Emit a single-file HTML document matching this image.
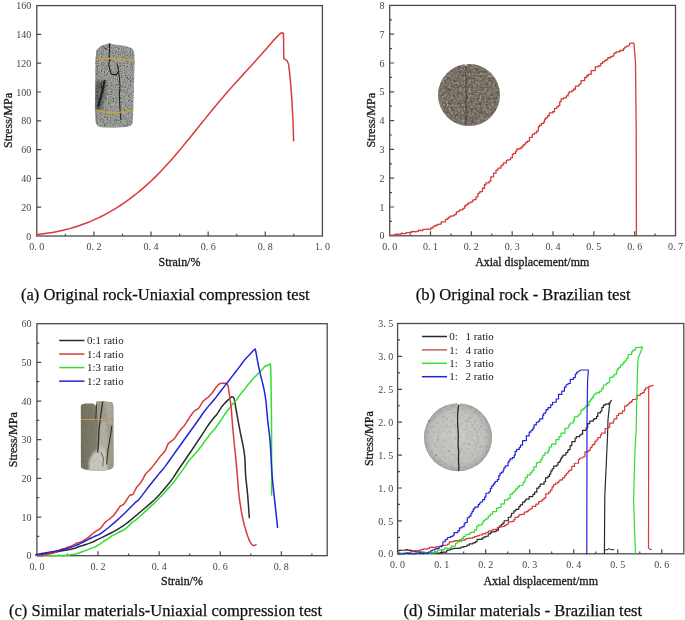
<!DOCTYPE html>
<html><head><meta charset="utf-8"><title>figure</title>
<style>html,body{margin:0;padding:0;background:#fff;width:685px;height:620px;overflow:hidden}svg{display:block}</style>
</head><body>
<svg width="685" height="620" viewBox="0 0 685 620" font-family="Liberation Serif, serif">
<defs>
<filter id="spk" x="0" y="0" width="100%" height="100%"><feTurbulence type="fractalNoise" baseFrequency="0.7" numOctaves="2" seed="4"/><feColorMatrix type="matrix" values="0 0 0 0 0  0 0 0 0 0  0 0 0 0 0  -2.0 0 0 0 1.05"/><feGaussianBlur stdDeviation="0.45"/></filter>
<filter id="spkw" x="0" y="0" width="100%" height="100%"><feTurbulence type="fractalNoise" baseFrequency="0.7" numOctaves="2" seed="11"/><feColorMatrix type="matrix" values="0 0 0 0 1  0 0 0 0 1  0 0 0 0 1  2.0 0 0 0 -0.95"/><feGaussianBlur stdDeviation="0.45"/></filter>
<filter id="mot" x="0" y="0" width="100%" height="100%"><feTurbulence type="fractalNoise" baseFrequency="0.35" numOctaves="3" seed="7"/><feColorMatrix type="matrix" values="0 0 0 0 0  0 0 0 0 0  0 0 0 0 0  -2.2 0 0 0 1.2"/><feGaussianBlur stdDeviation="0.5"/></filter>
<radialGradient id="gD" cx="50%" cy="50%" r="50%"><stop offset="0" stop-color="#cdcbc9"/><stop offset="0.8" stop-color="#c3c1be"/><stop offset="1" stop-color="#a9a7a3"/></radialGradient>
<filter id="glob" x="0" y="0" width="685" height="620" filterUnits="userSpaceOnUse"><feGaussianBlur stdDeviation="0.3"/></filter>
<filter id="motw" x="0" y="0" width="100%" height="100%"><feTurbulence type="fractalNoise" baseFrequency="0.45" numOctaves="3" seed="21"/><feColorMatrix type="matrix" values="0 0 0 0 0.69  0 0 0 0 0.65  0 0 0 0 0.58  2.4 0 0 0 -1.1"/><feGaussianBlur stdDeviation="0.6"/></filter>
<linearGradient id="gC" x1="0" y1="0" x2="1" y2="0"><stop offset="0" stop-color="#73705f"/><stop offset="0.45" stop-color="#807c6b"/><stop offset="1" stop-color="#8f8b7b"/></linearGradient>
<filter id="soft"><feGaussianBlur stdDeviation="0.45"/></filter>
<filter id="soft2"><feGaussianBlur stdDeviation="0.8"/></filter>
<clipPath id="cA"><path d="M96.3 50.4 L99 47.5 L102.4 45.2 L106 44.2 L109 43.3 L114.3 44.5 L125.4 45.9 L132 48.2 L134.2 51.5 L134.6 60 L133.3 110 L132.8 122 Q132 126.5 126 127 L114 127.8 L101 127.3 Q96.3 126.5 95.7 122 L95 110 L95.4 62 Z"/></clipPath>
<clipPath id="cB"><circle cx="469" cy="95" r="31"/></clipPath>
<clipPath id="cC"><path d="M80.8 406 Q81.2 403.4 86 403.4 L93.5 403.6 L95.5 406 L96.5 401.5 L104 401.4 L111.5 402.2 Q113.2 402.8 113.3 406 L113.5 466 Q113 470.5 100 470.6 Q82 470.8 80.9 467 Z"/></clipPath>
<clipPath id="cD"><circle cx="458" cy="437.2" r="34"/></clipPath>
</defs>
<g filter="url(#glob)"><path d="M65.36 236v-2.3M93.92 236v-4.5M122.48 236v-2.3M151.04 236v-4.5M179.60 236v-2.3M208.16 236v-4.5M236.72 236v-2.3M265.28 236v-4.5M293.84 236v-2.3M36.8 207.20h4.4M36.8 178.40h4.4M36.8 149.60h4.4M36.8 120.80h4.4M36.8 92.00h4.4M36.8 63.20h4.4M36.8 34.40h4.4" stroke="#4a4a4a" stroke-width="1.2" fill="none"/><rect x="36.8" y="5.6" width="285.60" height="230.40" fill="none" stroke="#4a4a4a" stroke-width="1.3"/><g font-size="10" fill="#444"><text x="36.80" y="249.6" text-anchor="middle">0. 0</text><text x="93.92" y="249.6" text-anchor="middle">0. 2</text><text x="151.04" y="249.6" text-anchor="middle">0. 4</text><text x="208.16" y="249.6" text-anchor="middle">0. 6</text><text x="265.28" y="249.6" text-anchor="middle">0. 8</text><text x="322.40" y="249.6" text-anchor="middle">1. 0</text><text x="31.2" y="239.60" text-anchor="end">0</text><text x="31.2" y="210.80" text-anchor="end">20</text><text x="31.2" y="182.00" text-anchor="end">40</text><text x="31.2" y="153.20" text-anchor="end">60</text><text x="31.2" y="124.40" text-anchor="end">80</text><text x="31.2" y="95.60" text-anchor="end">100</text><text x="31.2" y="66.80" text-anchor="end">120</text><text x="31.2" y="38.00" text-anchor="end">140</text><text x="31.2" y="9.20" text-anchor="end">160</text></g><text x="8" y="120.5" font-size="12" text-anchor="middle" transform="rotate(-90 8 120.5)" dominant-baseline="central" fill="#1a1a1a" stroke="#1a1a1a" stroke-width="0.3" textLength="55" lengthAdjust="spacingAndGlyphs">Stress/MPa</text><text x="179.5" y="266" font-size="12" text-anchor="middle" fill="#1a1a1a" stroke="#1a1a1a" stroke-width="0.3" textLength="41.8" lengthAdjust="spacingAndGlyphs">Strain/%</text><text x="21" y="300.2" font-size="16.5" fill="#111" stroke="#111" stroke-width="0.25" textLength="288.7" lengthAdjust="spacingAndGlyphs">(a) Original rock-Uniaxial compression test</text><g clip-path="url(#cA)"><rect x="94" y="42" width="42" height="88" fill="#989b94"/><rect x="94" y="42" width="42" height="88" fill="#000" filter="url(#spk)" opacity="0.7"/><rect x="94" y="42" width="42" height="88" fill="#fff" filter="url(#spkw)" opacity="0.45"/><path d="M95.5 82 Q101 78 107 82 L105 96 L102 110 Q97 113 95 110 Z" fill="#1a1a1a" opacity="0.4" filter="url(#soft2)"/><g filter="url(#soft)" fill="none" stroke="#1e1e1e" stroke-linecap="round" stroke-linejoin="round"><path d="M109.4 43.5 L109.8 49 L109 54.8 L109.8 59.3 L108.7 64.5 L109.8 69.7 L111.3 74.1 L116.5 74.9 L118.7 71.2" stroke-width="1.1"/><path d="M117.2 64.5 L118.7 71.9 L119.4 77.1 L120 86 L119.4 95 L119.8 106 L120.2 112.2 L120.9 119.6" stroke-width="1.0"/><path d="M102.4 45.9 L104.5 47.8 L106.8 49.6" stroke-width="0.8"/><path d="M104.5 81 L102.4 91.4 L100.2 98.8 L98.4 106.3" stroke-width="2"/><path d="M101 84 L102 90" stroke-width="0.9"/></g><path d="M94 42 L98 42 L98 130 L94 130 Z" fill="#000" opacity="0.08"/></g><g filter="url(#soft)" fill="none" stroke="#c2a046" stroke-width="1.7"><path d="M95.3 60 Q110 56 134.7 61.9"/><path d="M94.6 110 Q113 115.5 132.8 110"/></g><path d="M36.90 235.60 L37.00 234.46 L39.79 234.18 L42.57 233.87 L45.36 233.51 L48.15 233.11 L50.94 232.68 L53.72 232.19 L56.51 231.67 L59.30 231.10 L62.09 230.48 L64.87 229.82 L67.66 229.11 L70.45 228.35 L73.24 227.54 L76.02 226.69 L78.81 225.77 L81.60 224.81 L84.39 223.79 L87.17 222.72 L89.96 221.60 L92.75 220.41 L95.53 219.17 L98.32 217.87 L101.11 216.51 L103.90 215.09 L106.68 213.61 L109.47 212.07 L112.26 210.46 L115.05 208.79 L117.83 207.06 L120.62 205.25 L123.41 203.38 L126.20 201.45 L128.98 199.44 L131.77 197.36 L134.56 195.21 L137.34 192.99 L140.13 190.70 L142.92 188.33 L145.71 185.89 L148.49 183.37 L151.28 180.77 L154.07 178.10 L156.86 175.35 L159.64 172.52 L162.43 169.60 L165.22 166.61 L168.01 163.55 L170.79 160.42 L173.58 157.23 L176.37 153.99 L179.16 150.70 L181.94 147.37 L184.73 144.00 L187.52 140.59 L190.30 137.17 L193.09 133.72 L195.88 130.26 L198.67 126.80 L201.45 123.33 L204.24 119.86 L207.03 116.40 L209.82 112.96 L212.60 109.54 L215.39 106.15 L218.18 102.79 L220.97 99.47 L223.75 96.20 L226.54 92.97 L229.33 89.79 L232.11 86.65 L234.90 83.55 L237.69 80.48 L240.48 77.42 L243.26 74.38 L246.05 71.35 L248.84 68.31 L251.63 65.26 L254.41 62.20 L257.20 59.12 L259.99 56.00 L262.78 52.85 L265.56 49.65 L268.35 46.43 L271.14 43.23 L273.93 40.11 L276.71 37.13 L279.50 34.33 L281.30 32.90 L282.60 32.80 L283.40 33.60 L283.60 40.00 L283.80 58.70 L285.50 59.60 L287.10 60.80 L288.50 64.00 L289.50 71.60 L291.00 88.00 L291.90 100.60 L293.00 120.00 L293.60 140.80" fill="none" stroke="#d83a3a" stroke-width="1.5" stroke-linejoin="round" stroke-linecap="round"/><path d="M410.11 235.8v-2.3M430.53 235.8v-4.5M450.94 235.8v-2.3M471.36 235.8v-4.5M491.77 235.8v-2.3M512.19 235.8v-4.5M532.60 235.8v-2.3M553.01 235.8v-4.5M573.43 235.8v-2.3M593.84 235.8v-4.5M614.26 235.8v-2.3M634.67 235.8v-4.5M655.09 235.8v-2.3M389.7 221.40h2.4M389.7 207.00h4.4M389.7 192.60h2.4M389.7 178.20h4.4M389.7 163.80h2.4M389.7 149.40h4.4M389.7 135.00h2.4M389.7 120.60h4.4M389.7 106.20h2.4M389.7 91.80h4.4M389.7 77.40h2.4M389.7 63.00h4.4M389.7 48.60h2.4M389.7 34.20h4.4M389.7 19.80h2.4" stroke="#4a4a4a" stroke-width="1.2" fill="none"/><rect x="389.7" y="5.4" width="285.80" height="230.40" fill="none" stroke="#4a4a4a" stroke-width="1.3"/><g font-size="10" fill="#444"><text x="389.70" y="249.5" text-anchor="middle">0. 0</text><text x="430.53" y="249.5" text-anchor="middle">0. 1</text><text x="471.36" y="249.5" text-anchor="middle">0. 2</text><text x="512.19" y="249.5" text-anchor="middle">0. 3</text><text x="553.01" y="249.5" text-anchor="middle">0. 4</text><text x="593.84" y="249.5" text-anchor="middle">0. 5</text><text x="634.67" y="249.5" text-anchor="middle">0. 6</text><text x="675.50" y="249.5" text-anchor="middle">0. 7</text><text x="384.6" y="239.40" text-anchor="end">0</text><text x="384.6" y="210.60" text-anchor="end">1</text><text x="384.6" y="181.80" text-anchor="end">2</text><text x="384.6" y="153.00" text-anchor="end">3</text><text x="384.6" y="124.20" text-anchor="end">4</text><text x="384.6" y="95.40" text-anchor="end">5</text><text x="384.6" y="66.60" text-anchor="end">6</text><text x="384.6" y="37.80" text-anchor="end">7</text><text x="384.6" y="9.00" text-anchor="end">8</text></g><text x="371" y="120.3" font-size="12" text-anchor="middle" transform="rotate(-90 371 120.3)" dominant-baseline="central" fill="#1a1a1a" stroke="#1a1a1a" stroke-width="0.3" textLength="54.6" lengthAdjust="spacingAndGlyphs">Stress/MPa</text><text x="532.2" y="266" font-size="12" text-anchor="middle" fill="#1a1a1a" stroke="#1a1a1a" stroke-width="0.3" textLength="114" lengthAdjust="spacingAndGlyphs">Axial displacement/mm</text><text x="415.8" y="300.2" font-size="16.5" fill="#111" stroke="#111" stroke-width="0.25" textLength="214.8" lengthAdjust="spacingAndGlyphs">(b) Original rock - Brazilian test</text><g clip-path="url(#cB)"><rect x="436" y="62" width="66" height="66" fill="#786f64"/><rect x="436" y="62" width="66" height="66" fill="#000" filter="url(#mot)" opacity="0.4"/><rect x="436" y="62" width="66" height="66" filter="url(#motw)" opacity="0.6"/><rect x="436" y="62" width="66" height="66" fill="#000" filter="url(#spk)" opacity="0.15"/><path d="M465.6 63 L466.2 68 L465.5 74 L466.3 80 L465.7 88 L466.4 95 L465.8 103 L466.3 110 L465.9 118 L466.2 127" stroke="#3a352e" stroke-width="0.8" fill="none" filter="url(#soft)"/></g><path d="M465 63.6 L466.4 66" stroke="#fff" stroke-width="1.2"/><path d="M390.20 235.30 L391.44 235.30 L391.44 235.16 L393.17 235.16 L393.17 234.99 L394.16 234.99 L394.16 235.06 L395.40 235.06 L395.40 235.04 L395.40 234.27 L397.38 234.27 L397.38 234.27 L398.62 234.27 L398.62 234.15 L400.35 234.15 L400.35 234.02 L401.34 234.02 L401.34 233.12 L402.58 233.12 L402.58 233.59 L404.07 233.59 L406.04 233.59 L406.04 233.50 L406.04 232.72 L408.02 232.72 L410.24 232.72 L410.24 232.01 L411.47 232.01 L411.47 232.67 L411.47 231.71 L413.20 231.71 L413.20 231.50 L414.68 231.50 L414.68 231.75 L416.40 231.75 L416.40 231.29 L418.61 231.29 L418.61 230.23 L420.58 230.23 L420.58 230.54 L422.79 230.54 L422.79 229.47 L424.75 229.47 L426.47 229.47 L426.47 229.20 L428.65 229.20 L428.65 229.38 L430.81 229.38 L430.81 228.15 L430.81 228.00 L432.22 228.00 L433.15 228.00 L433.15 227.48 L433.15 226.41 L434.99 226.41 L434.99 225.52 L437.25 225.52 L437.25 224.42 L438.59 224.42 L439.47 224.42 L439.47 224.07 L441.21 224.07 L441.21 223.03 L441.21 221.87 L443.33 221.87 L445.42 221.87 L445.42 220.57 L445.42 219.69 L447.07 219.69 L447.07 218.51 L448.70 218.51 L448.70 217.16 L450.33 217.16 L450.33 216.19 L451.57 216.19 L453.23 216.19 L453.23 215.33 L454.69 215.33 L454.69 214.40 L456.36 214.40 L456.36 213.34 L456.36 211.91 L458.22 211.91 L458.22 211.15 L459.65 211.15 L459.65 209.78 L460.67 209.78 L462.91 209.78 L462.91 208.37 L464.69 208.37 L464.69 207.07 L464.69 206.01 L466.05 206.01 L466.05 204.88 L467.38 204.88 L467.38 204.27 L468.34 204.27 L468.34 202.81 L469.68 202.81 L470.83 202.81 L470.83 201.80 L472.70 201.80 L472.70 200.06 L473.97 200.06 L473.97 199.59 L476.07 199.59 L476.07 196.78 L477.93 196.78 L477.93 195.47 L477.93 193.75 L478.73 193.75 L478.73 193.09 L479.85 193.09 L479.85 191.58 L480.63 191.58 L482.47 191.58 L482.47 189.74 L482.47 188.23 L483.23 188.23 L484.43 188.23 L484.43 186.69 L484.43 184.75 L485.94 184.75 L485.94 182.95 L486.99 182.95 L489.10 182.95 L489.10 181.14 L490.78 181.14 L490.78 178.90 L490.78 176.85 L492.32 176.85 L493.58 176.85 L493.58 174.75 L493.58 173.19 L494.71 173.19 L496.03 173.19 L496.03 172.43 L496.03 170.10 L498.05 170.10 L498.05 168.14 L500.13 168.14 L500.83 168.14 L500.83 167.27 L500.83 165.95 L502.07 165.95 L502.07 164.83 L503.50 164.83 L503.50 162.92 L504.75 162.92 L506.38 162.92 L506.38 161.89 L506.38 160.61 L507.46 160.61 L507.46 159.83 L508.54 159.83 L510.53 159.83 L510.53 157.95 L512.31 157.95 L512.31 156.24 L512.31 154.59 L513.38 154.59 L513.38 153.39 L514.79 153.39 L515.68 153.39 L515.68 152.09 L515.68 151.05 L516.75 151.05 L516.75 148.98 L518.90 148.98 L520.15 148.98 L520.15 147.98 L521.94 147.98 L521.94 146.51 L523.19 146.51 L523.19 145.02 L524.78 145.02 L524.78 143.82 L525.66 143.82 L525.66 142.39 L527.41 142.39 L527.41 141.21 L529.47 141.21 L529.47 138.87 L529.47 137.28 L530.83 137.28 L532.33 137.28 L532.33 135.80 L532.33 134.32 L533.48 134.32 L534.46 134.32 L534.46 133.08 L536.56 133.08 L536.56 131.11 L538.32 131.11 L538.32 128.85 L538.32 126.63 L539.59 126.63 L539.59 125.27 L541.33 125.27 L541.33 123.38 L542.76 123.38 L543.55 123.38 L543.55 122.26 L544.50 122.26 L544.50 121.29 L544.50 119.65 L545.30 119.65 L545.30 118.23 L546.41 118.23 L546.41 117.71 L547.54 117.71 L547.54 115.73 L549.33 115.73 L549.33 112.94 L550.98 112.94 L552.65 112.94 L552.65 111.75 L554.51 111.75 L554.51 109.95 L554.51 108.47 L555.52 108.47 L556.71 108.47 L556.71 106.80 L558.40 106.80 L558.40 105.54 L559.74 105.54 L559.74 103.69 L559.74 101.65 L561.18 101.65 L561.18 98.96 L563.40 98.96 L563.40 97.91 L564.54 97.91 L566.28 97.91 L566.28 95.94 L568.11 95.94 L568.11 94.61 L568.11 93.63 L569.03 93.63 L569.03 91.83 L570.72 91.83 L571.85 91.83 L571.85 90.67 L573.54 90.67 L573.54 89.24 L575.43 89.24 L575.43 88.23 L575.43 86.04 L577.31 86.04 L578.99 86.04 L578.99 84.40 L579.92 84.40 L579.92 83.78 L581.03 83.78 L581.03 82.65 L581.03 80.54 L583.02 80.54 L584.62 80.54 L584.62 79.42 L584.62 77.49 L586.72 77.49 L586.72 75.76 L588.27 75.76 L588.27 74.33 L589.65 74.33 L591.20 74.33 L591.20 72.19 L591.20 70.67 L593.12 70.67 L595.25 70.67 L595.25 68.12 L595.25 66.86 L596.52 66.86 L598.58 66.86 L598.58 65.75 L600.71 65.75 L600.71 63.43 L602.69 63.43 L602.69 61.68 L604.72 61.68 L604.72 60.42 L606.36 60.42 L606.36 59.66 L607.81 59.66 L607.81 58.44 L607.81 57.76 L609.06 57.76 L610.53 57.76 L610.53 56.77 L611.79 56.77 L611.79 56.08 L613.90 56.08 L613.90 54.99 L613.90 53.13 L616.03 53.13 L616.03 51.91 L617.96 51.91 L619.70 51.91 L619.70 51.43 L619.70 50.50 L621.67 50.50 L623.43 50.50 L623.43 48.70 L623.43 48.59 L624.75 48.59 L624.75 47.12 L626.52 47.12 L626.52 46.17 L628.28 46.17 L629.00 46.10 L629.80 43.20 L633.90 43.20 L635.50 62.30 L636.20 130.00 L636.40 235.80" fill="none" stroke="#d83a3a" stroke-width="1.3" stroke-linejoin="round" stroke-linecap="round"/><path d="M67.46 555.7v-2.3M98.02 555.7v-4.5M128.57 555.7v-2.3M159.13 555.7v-4.5M189.69 555.7v-2.3M220.25 555.7v-4.5M250.81 555.7v-2.3M281.36 555.7v-4.5M311.92 555.7v-2.3M36.9 536.37h2.4M36.9 517.03h4.4M36.9 497.70h2.4M36.9 478.37h4.4M36.9 459.03h2.4M36.9 439.70h4.4M36.9 420.37h2.4M36.9 401.03h4.4M36.9 381.70h2.4M36.9 362.37h4.4M36.9 343.03h2.4" stroke="#4a4a4a" stroke-width="1.2" fill="none"/><rect x="36.9" y="323.7" width="290.30" height="232.00" fill="none" stroke="#4a4a4a" stroke-width="1.3"/><g font-size="10" fill="#444"><text x="36.90" y="569.5" text-anchor="middle">0. 0</text><text x="98.02" y="569.5" text-anchor="middle">0. 2</text><text x="159.13" y="569.5" text-anchor="middle">0. 4</text><text x="220.25" y="569.5" text-anchor="middle">0. 6</text><text x="281.36" y="569.5" text-anchor="middle">0. 8</text><text x="31.4" y="559.30" text-anchor="end">0</text><text x="31.4" y="520.63" text-anchor="end">10</text><text x="31.4" y="481.97" text-anchor="end">20</text><text x="31.4" y="443.30" text-anchor="end">30</text><text x="31.4" y="404.63" text-anchor="end">40</text><text x="31.4" y="365.97" text-anchor="end">50</text><text x="31.4" y="327.30" text-anchor="end">60</text></g><text x="12.6" y="439.7" font-size="12" text-anchor="middle" transform="rotate(-90 12.6 439.7)" dominant-baseline="central" fill="#1a1a1a" stroke="#1a1a1a" stroke-width="0.3" textLength="55" lengthAdjust="spacingAndGlyphs">Stress/MPa</text><text x="182" y="585" font-size="12" text-anchor="middle" fill="#1a1a1a" stroke="#1a1a1a" stroke-width="0.3" textLength="41.8" lengthAdjust="spacingAndGlyphs">Strain/%</text><text x="9" y="616.2" font-size="16.5" fill="#111" stroke="#111" stroke-width="0.25" textLength="313" lengthAdjust="spacingAndGlyphs">(c) Similar materials-Uniaxial compression test</text><g clip-path="url(#cC)"><rect x="80" y="400" width="35" height="73" fill="url(#gC)"/><path d="M96.5 400 L115 400 L115 473 L100 473 L97 455 L98.5 430 Z" fill="#a09c8c"/><path d="M99 424 L106 420 L108 440 L106 456 L100 458 L97.5 445 Z" fill="#b2afa5" filter="url(#soft2)"/><path d="M89 462 Q92 452 97 450 L102 446 L106 452 L108 473 L89 473 Z" fill="#c9c6be" filter="url(#soft2)"/><path d="M104 402 L112.5 402 L112 425 L109 424 L106 410 Z" fill="#aeaa9f" filter="url(#soft2)"/><rect x="80" y="400" width="35" height="73" fill="#000" filter="url(#mot)" opacity="0.08"/><g filter="url(#soft)" fill="none" stroke="#302e29" stroke-linecap="round"><path d="M102.7 401.5 L101.5 410 L100.2 420 L99 430 L98.6 440 L97.8 452" stroke-width="1.3"/><path d="M96.5 405 L96.2 412 L95.6 420" stroke-width="0.9"/><path d="M111.8 426 L110.5 436 L108.6 446 L107.3 456 L106.8 464" stroke-width="1.1"/><path d="M101 452 L103.5 458 L102.8 466" stroke-width="0.6"/></g></g><path d="M80.9 419.8 Q97 418.8 113.6 419.8" stroke="#bb9c5a" stroke-width="2.4" fill="none" filter="url(#soft)"/><path d="M59.2 340.50H84.4" stroke="#2a2a2a" stroke-width="1.5"/><text x="87" y="344.30" font-size="11" fill="#222" textLength="36.6" lengthAdjust="spacingAndGlyphs">0:1 ratio</text><path d="M59.2 354.05H84.4" stroke="#d83a3a" stroke-width="1.5"/><text x="87" y="357.85" font-size="11" fill="#222" textLength="36.6" lengthAdjust="spacingAndGlyphs">1:4 ratio</text><path d="M59.2 367.60H84.4" stroke="#33dd33" stroke-width="1.5"/><text x="87" y="371.40" font-size="11" fill="#222" textLength="36.6" lengthAdjust="spacingAndGlyphs">1:3 ratio</text><path d="M59.2 381.15H84.4" stroke="#2222dd" stroke-width="1.5"/><text x="87" y="384.95" font-size="11" fill="#222" textLength="36.6" lengthAdjust="spacingAndGlyphs">1:2 ratio</text><path d="M36.00 555.10 L38.29 554.61 L41.55 554.45 L44.80 553.66 L47.70 553.32 L50.60 553.06 L53.50 552.54 L56.43 551.94 L59.37 551.34 L62.30 550.68 L65.20 550.22 L68.10 549.82 L71.00 549.23 L73.93 548.57 L76.87 547.46 L79.80 546.32 L82.72 545.53 L85.63 544.57 L88.50 543.61 L91.02 542.66 L93.49 541.73 L96.80 539.82 L101.68 537.64 L107.39 534.71 L112.60 532.21 L116.70 529.77 L120.31 527.62 L123.90 525.26 L127.87 522.29 L131.84 519.12 L135.10 516.24 L136.84 515.05 L137.89 513.93 L140.00 512.21 L144.10 508.74 L149.26 504.40 L154.50 499.81 L159.75 494.28 L165.08 488.05 L169.70 482.48 L173.10 477.87 L175.78 473.74 L178.50 469.53 L181.43 465.30 L184.39 461.05 L187.60 456.26 L191.21 451.01 L195.06 445.16 L198.90 439.51 L202.83 433.55 L206.74 427.43 L210.10 422.50 L212.56 419.52 L214.46 417.07 L216.30 415.12 L218.21 412.30 L220.05 409.38 L221.90 406.45 L223.86 404.18 L225.83 402.11 L227.60 400.35 L229.09 398.98 L230.39 397.67 L231.50 396.82 L232.43 396.95 L233.18 397.20 L233.80 398.04 L234.23 399.16 L234.53 400.33 L234.90 402.71 L235.34 405.23 L235.85 408.33 L236.60 412.71 L237.76 419.02 L239.17 426.44 L240.50 433.51 L241.69 439.02 L242.80 444.32 L243.70 449.06 L244.30 453.03 L244.69 456.70 L245.00 460.78 L245.20 465.16 L245.32 469.58 L245.60 475.12 L246.17 481.00 L246.90 487.29 L247.60 494.34 L248.25 502.60 L248.87 511.28 L249.30 517.60" fill="none" stroke="#2a2a2a" stroke-width="1.5" stroke-linejoin="round" stroke-linecap="round"/><path d="M37.00 555.20 L39.19 555.29 L42.39 555.68 L46.00 555.26 L50.17 555.76 L54.76 555.66 L58.80 555.21 L61.90 555.69 L64.44 555.33 L66.60 555.44 L68.16 555.21 L69.33 555.16 L71.00 554.57 L73.61 554.38 L76.71 553.71 L79.80 552.79 L82.75 551.46 L85.69 550.64 L88.50 549.39 L90.96 548.36 L93.29 547.64 L96.00 546.46 L99.57 544.32 L103.53 541.51 L106.90 539.40 L108.98 538.07 L110.48 536.83 L112.60 535.44 L116.04 533.93 L120.10 531.77 L123.90 529.77 L127.14 527.45 L130.13 524.37 L132.90 521.64 L135.01 520.59 L136.92 519.07 L140.00 516.19 L145.33 511.33 L151.83 505.37 L157.70 499.78 L162.07 495.17 L165.81 491.13 L169.70 486.87 L174.31 481.50 L179.08 474.60 L183.10 469.37 L185.74 465.37 L187.64 462.50 L189.80 459.54 L192.66 456.48 L195.79 453.00 L198.90 449.32 L201.98 445.25 L205.04 440.89 L207.90 437.19 L210.29 433.99 L212.47 431.55 L215.00 428.76 L218.29 424.03 L221.93 418.84 L225.30 413.44 L228.07 410.04 L230.57 406.89 L233.20 403.32 L236.17 400.34 L239.26 395.88 L242.20 392.08 L244.94 388.84 L247.52 385.21 L249.80 382.70 L251.64 380.38 L253.17 378.60 L254.70 376.94 L256.34 375.66 L257.97 373.48 L259.50 372.23 L260.90 370.53 L262.21 369.62 L263.40 367.94 L264.48 366.73 L265.44 365.69 L266.30 365.45 L267.01 365.31 L267.61 365.47 L268.20 365.37 L268.85 365.13 L269.49 364.36 L270.00 363.77 L270.33 363.71 L270.53 364.84 L270.70 367.77 L270.86 373.01 L270.98 379.84 L271.10 388.04 L271.24 396.61 L271.38 406.15 L271.50 419.76 L271.59 444.94 L271.66 473.93 L271.70 495.00" fill="none" stroke="#33dd33" stroke-width="1.5" stroke-linejoin="round" stroke-linecap="round"/><path d="M37.80 556.00 L39.55 556.00 L42.08 555.78 L44.80 555.36 L47.57 554.25 L50.53 553.69 L53.50 552.96 L56.43 551.95 L59.37 550.03 L62.30 548.88 L65.37 548.22 L68.42 546.92 L71.00 546.23 L72.72 545.31 L73.97 544.64 L75.40 543.96 L77.27 542.82 L79.34 542.53 L81.50 541.64 L83.76 540.44 L86.13 538.77 L88.50 537.35 L90.91 535.18 L93.33 533.23 L95.60 531.34 L97.69 530.29 L99.62 528.91 L101.30 527.46 L102.52 525.75 L103.49 524.30 L104.70 522.56 L106.44 521.23 L108.43 519.76 L110.30 518.49 L111.88 516.91 L113.34 515.82 L114.80 513.71 L116.30 511.75 L117.79 509.45 L119.30 507.31 L120.79 505.79 L122.29 505.10 L123.90 504.11 L125.77 501.26 L127.76 498.10 L129.50 495.62 L130.79 494.66 L131.83 495.04 L132.90 494.44 L134.03 492.40 L135.18 490.01 L136.50 487.44 L138.11 485.54 L139.89 483.80 L141.60 481.06 L143.12 478.75 L144.57 475.72 L146.10 473.25 L147.76 471.79 L149.50 470.04 L151.30 468.13 L153.11 465.87 L154.99 463.53 L157.10 460.65 L159.74 457.10 L162.62 453.79 L165.00 451.08 L166.39 447.91 L167.27 445.68 L168.40 443.45 L170.10 442.06 L172.04 440.64 L174.00 439.07 L175.90 436.49 L177.80 433.48 L179.70 430.81 L181.61 428.45 L183.52 426.74 L185.30 424.07 L186.88 421.53 L188.34 419.54 L189.80 416.72 L191.30 415.05 L192.79 412.69 L194.30 411.28 L195.87 409.92 L197.46 409.31 L198.90 407.97 L200.11 406.17 L201.19 404.18 L202.20 402.52 L203.07 401.21 L203.88 400.70 L205.00 399.67 L206.57 398.17 L208.46 397.04 L210.60 394.76 L213.23 391.53 L216.11 387.23 L218.50 384.52 L220.00 383.43 L221.01 383.56 L222.00 383.25 L223.15 383.26 L224.28 383.30 L225.30 383.14 L226.19 383.54 L226.96 383.90 L227.60 384.45 L228.06 386.04 L228.38 387.96 L228.70 389.93 L229.06 392.39 L229.41 395.41 L229.80 397.90 L230.26 401.15 L230.76 404.39 L231.20 408.03 L231.51 411.36 L231.76 415.29 L232.10 419.54 L232.59 425.36 L233.17 432.07 L233.80 438.77 L234.53 446.34 L235.31 453.78 L236.00 460.55 L236.50 466.18 L236.91 470.64 L237.30 475.27 L237.68 480.08 L238.04 485.46 L238.50 490.44 L239.09 496.01 L239.76 501.18 L240.50 505.88 L241.30 511.19 L242.17 515.52 L243.10 519.96 L244.12 524.49 L245.21 528.10 L246.30 531.81 L247.37 535.24 L248.43 537.95 L249.50 540.95 L250.56 542.69 L251.63 544.30 L252.70 545.21 L253.91 545.60 L255.14 545.19 L256.00 544.70" fill="none" stroke="#d83a3a" stroke-width="1.5" stroke-linejoin="round" stroke-linecap="round"/><path d="M36.00 554.70 L38.29 554.21 L41.55 553.53 L44.80 552.90 L47.70 552.45 L50.60 552.05 L53.50 551.60 L56.43 551.07 L59.37 550.48 L62.30 549.80 L65.20 549.03 L68.10 548.16 L71.00 547.20 L73.93 546.13 L76.87 544.97 L79.80 543.70 L82.75 542.27 L85.69 540.73 L88.50 539.30 L91.17 538.03 L93.71 536.87 L96.00 535.80 L97.71 535.10 L99.17 534.51 L101.30 533.20 L104.62 530.72 L108.61 527.53 L112.60 524.20 L116.37 520.93 L120.14 517.53 L123.90 514.00 L127.91 510.02 L131.91 505.91 L135.10 502.70 L136.70 501.39 L137.49 500.97 L139.00 499.40 L141.99 495.60 L145.70 490.66 L149.40 485.80 L153.03 481.20 L156.64 476.69 L159.70 472.90 L161.61 470.66 L162.97 469.16 L165.00 466.60 L168.32 462.04 L172.31 456.42 L176.30 450.80 L180.07 445.53 L183.83 440.27 L187.60 435.00 L191.56 429.47 L195.52 423.94 L198.90 419.20 L201.13 415.96 L202.77 413.50 L205.00 410.50 L208.38 406.37 L212.34 401.70 L216.30 396.90 L220.07 392.08 L223.83 387.13 L227.60 382.20 L231.56 377.09 L235.52 371.99 L238.90 367.60 L241.37 364.27 L243.26 361.65 L245.00 359.40 L246.70 357.53 L248.26 356.02 L249.80 354.50 L251.51 352.61 L253.20 350.72 L254.50 349.50 L255.10 349.06 L255.30 349.30 L255.60 350.60 L256.17 353.35 L256.83 357.16 L257.60 361.30 L258.50 365.69 L259.50 370.41 L260.50 374.90 L261.49 378.84 L262.47 382.57 L263.40 386.50 L264.26 390.64 L265.06 394.99 L265.80 400.00 L266.41 405.89 L266.96 412.43 L267.60 419.40 L268.43 426.51 L269.36 434.04 L270.20 442.60 L270.86 452.96 L271.44 464.35 L272.10 475.00 L272.90 484.06 L273.79 492.39 L274.70 500.80 L275.75 510.56 L276.84 520.40 L277.60 527.30" fill="none" stroke="#2222dd" stroke-width="1.5" stroke-linejoin="round" stroke-linecap="round"/><path d="M419.62 553.8v-2.3M441.63 553.8v-4.5M463.65 553.8v-2.3M485.66 553.8v-4.5M507.68 553.8v-2.3M529.69 553.8v-4.5M551.71 553.8v-2.3M573.72 553.8v-4.5M595.74 553.8v-2.3M617.75 553.8v-4.5M639.77 553.8v-2.3M661.78 553.8v-4.5M397.6 537.35h2.4M397.6 520.90h4.4M397.6 504.45h2.4M397.6 488.00h4.4M397.6 471.55h2.4M397.6 455.10h4.4M397.6 438.65h2.4M397.6 422.20h4.4M397.6 405.75h2.4M397.6 389.30h4.4M397.6 372.85h2.4M397.6 356.40h4.4M397.6 339.95h2.4" stroke="#4a4a4a" stroke-width="1.2" fill="none"/><rect x="397.6" y="323.5" width="286.20" height="230.30" fill="none" stroke="#4a4a4a" stroke-width="1.3"/><g font-size="10" fill="#444"><text x="397.60" y="567.5" text-anchor="middle">0. 0</text><text x="441.63" y="567.5" text-anchor="middle">0. 1</text><text x="485.66" y="567.5" text-anchor="middle">0. 2</text><text x="529.69" y="567.5" text-anchor="middle">0. 3</text><text x="573.72" y="567.5" text-anchor="middle">0. 4</text><text x="617.75" y="567.5" text-anchor="middle">0. 5</text><text x="661.78" y="567.5" text-anchor="middle">0. 6</text><text x="393.2" y="557.40" text-anchor="end">0. 0</text><text x="393.2" y="524.50" text-anchor="end">0. 5</text><text x="393.2" y="491.60" text-anchor="end">1. 0</text><text x="393.2" y="458.70" text-anchor="end">1. 5</text><text x="393.2" y="425.80" text-anchor="end">2. 0</text><text x="393.2" y="392.90" text-anchor="end">2. 5</text><text x="393.2" y="360.00" text-anchor="end">3. 0</text><text x="393.2" y="327.10" text-anchor="end">3. 5</text></g><text x="369.5" y="438.6" font-size="12" text-anchor="middle" transform="rotate(-90 369.5 438.6)" dominant-baseline="central" fill="#1a1a1a" stroke="#1a1a1a" stroke-width="0.3" textLength="55" lengthAdjust="spacingAndGlyphs">Stress/MPa</text><text x="540.7" y="584.5" font-size="12" text-anchor="middle" fill="#1a1a1a" stroke="#1a1a1a" stroke-width="0.3" textLength="114.6" lengthAdjust="spacingAndGlyphs">Axial displacement/mm</text><text x="403.5" y="616.3" font-size="16.5" fill="#111" stroke="#111" stroke-width="0.25" textLength="238.6" lengthAdjust="spacingAndGlyphs">(d) Similar materials - Brazilian test</text><g clip-path="url(#cD)"><circle cx="458" cy="437.2" r="34" fill="url(#gD)"/><rect x="423" y="402" width="70" height="70" fill="#000" filter="url(#mot)" opacity="0.12"/><circle cx="458" cy="437.2" r="34" fill="none" stroke="#9a9894" stroke-width="1.2" filter="url(#soft)"/><g fill="#555" filter="url(#soft)"><circle cx="428.5" cy="421" r="0.9"/><circle cx="443" cy="417" r="0.5"/><circle cx="477" cy="432" r="0.6"/><circle cx="481" cy="426" r="0.5"/><circle cx="438" cy="440" r="0.5"/><circle cx="449" cy="451" r="0.5"/><circle cx="470" cy="418" r="0.5"/><circle cx="476" cy="444" r="0.5"/><circle cx="436" cy="455" r="0.5"/><circle cx="486" cy="437" r="0.4"/><circle cx="446" cy="427" r="0.4"/><circle cx="462" cy="462" r="0.4"/></g><path d="M459 403.5 L458.2 408 L457.6 414 L457.4 420 L457.9 428 L458.3 436 L458.1 444 L458.7 452 L458.4 460 L458.9 466 L458.6 471" stroke="#262626" stroke-width="1.3" fill="none" filter="url(#soft)"/></g><path d="M456.8 402.8 L459 405.5 L460.6 402.8 Z" fill="#fff"/><path d="M421.9 336.50H447" stroke="#2a2a2a" stroke-width="1.5"/><text x="449.2" y="340.10" font-size="11" fill="#222">0:</text><text x="465.4" y="340.10" font-size="11" fill="#222">1 ratio</text><path d="M421.9 349.90H447" stroke="#c06060" stroke-width="1.5"/><text x="449.2" y="353.50" font-size="11" fill="#222">1:</text><text x="465.4" y="353.50" font-size="11" fill="#222">4 ratio</text><path d="M421.9 363.30H447" stroke="#33dd33" stroke-width="1.5"/><text x="449.2" y="366.90" font-size="11" fill="#222">1:</text><text x="465.4" y="366.90" font-size="11" fill="#222">3 ratio</text><path d="M421.9 376.70H447" stroke="#2222dd" stroke-width="1.5"/><text x="449.2" y="380.30" font-size="11" fill="#222">1:</text><text x="465.4" y="380.30" font-size="11" fill="#222">2 ratio</text><path d="M397.75 551.00 L398.97 551.00 L398.97 550.43 L400.44 550.43 L400.44 550.11 L400.44 550.26 L402.41 550.26 L404.64 550.26 L404.64 550.11 L405.89 550.11 L405.89 549.68 L407.61 549.68 L407.61 550.21 L409.81 550.21 L409.81 550.45 L412.03 550.45 L412.03 551.22 L413.27 551.22 L413.27 551.40 L413.27 551.33 L414.26 551.33 L415.49 551.33 L415.49 551.14 L415.49 551.79 L417.47 551.79 L419.44 551.79 L419.44 552.50 L420.68 552.50 L420.68 551.90 L420.68 552.12 L422.17 552.12 L423.16 552.12 L423.16 552.45 L425.15 552.45 L425.15 552.75 L425.15 552.86 L426.15 552.86 L426.15 553.39 L428.14 553.39 L428.14 552.83 L429.39 552.83 L429.39 553.18 L431.39 553.18 L433.14 553.18 L433.14 553.00 L433.14 553.27 L434.14 553.27 L434.14 553.06 L436.39 553.06 L436.39 553.09 L438.62 553.09 L440.10 553.09 L440.10 552.60 L440.10 552.54 L441.34 552.54 L443.06 552.54 L443.06 552.05 L444.54 552.05 L444.54 552.09 L446.71 552.09 L446.71 550.98 L446.71 550.41 L448.27 550.41 L448.27 550.01 L450.37 550.01 L450.37 549.48 L451.34 549.48 L451.34 548.91 L453.05 548.91 L453.05 548.38 L455.27 548.38 L455.27 548.45 L456.75 548.45 L458.95 548.45 L458.95 548.11 L461.13 548.11 L461.13 547.19 L463.28 547.19 L463.28 546.61 L465.62 546.61 L465.62 546.24 L467.01 546.24 L467.01 545.15 L468.16 545.15 L468.16 545.22 L469.31 545.22 L469.31 544.10 L469.31 543.83 L470.91 543.83 L472.74 543.83 L472.74 543.07 L474.10 543.07 L474.10 542.56 L475.45 542.56 L475.45 541.53 L477.02 541.53 L477.02 540.41 L477.02 539.36 L479.25 539.36 L479.25 539.47 L480.36 539.47 L482.14 539.47 L482.14 537.86 L484.12 537.86 L484.12 536.82 L486.07 536.82 L486.07 536.27 L488.22 536.27 L488.22 534.71 L488.22 533.95 L489.29 533.95 L490.58 533.95 L490.58 532.97 L490.58 532.54 L491.67 532.54 L491.67 531.84 L492.78 531.84 L495.18 531.84 L495.18 531.13 L496.64 531.13 L496.64 530.15 L498.44 530.15 L498.44 528.28 L498.44 527.49 L499.77 527.49 L499.77 525.74 L501.42 525.74 L501.42 524.41 L502.86 524.41 L502.86 523.22 L504.10 523.22 L504.10 520.75 L506.21 520.75 L508.30 520.75 L508.30 518.59 L508.30 517.24 L509.51 517.24 L510.90 517.24 L510.90 516.46 L510.90 515.74 L511.60 515.74 L511.60 513.27 L513.88 513.27 L513.88 510.85 L515.82 510.85 L515.82 509.30 L517.41 509.30 L518.82 509.30 L518.82 508.18 L518.82 506.64 L520.24 506.64 L520.24 504.81 L522.54 504.81 L522.54 502.17 L524.66 502.17 L524.66 500.81 L525.90 500.81 L525.90 499.06 L527.87 499.06 L529.12 499.06 L529.12 498.34 L529.12 496.60 L530.56 496.60 L532.89 496.60 L532.89 494.33 L534.67 494.33 L534.67 492.21 L536.78 492.21 L536.78 490.64 L536.78 488.14 L538.84 488.14 L538.84 486.51 L540.16 486.51 L540.16 484.17 L542.23 484.17 L544.05 484.17 L544.05 481.73 L545.53 481.73 L545.53 479.75 L545.53 477.93 L547.17 477.93 L547.91 477.93 L547.91 476.39 L549.50 476.39 L549.50 474.08 L550.78 474.08 L550.78 472.35 L550.78 470.82 L552.22 470.82 L552.22 468.73 L553.70 468.73 L553.70 466.07 L555.57 466.07 L556.70 466.07 L556.70 465.09 L558.00 465.09 L558.00 463.58 L558.00 462.38 L558.98 462.38 L559.78 462.38 L559.78 460.79 L560.71 460.79 L560.71 460.26 L560.71 458.71 L561.63 458.71 L561.63 457.09 L562.96 457.09 L562.96 455.04 L564.13 455.04 L565.85 455.04 L565.85 452.58 L567.72 452.58 L567.72 450.65 L568.16 450.65 L568.16 449.63 L570.02 449.63 L570.02 447.24 L570.02 445.60 L571.00 445.60 L571.85 445.60 L571.85 444.21 L571.85 441.66 L573.42 441.66 L575.08 441.66 L575.08 439.90 L575.08 438.48 L576.20 438.48 L576.20 436.53 L577.93 436.53 L579.75 436.53 L579.75 435.01 L581.03 435.01 L581.03 434.11 L582.62 434.11 L582.62 432.29 L582.62 430.28 L584.61 430.28 L586.22 430.28 L586.22 427.80 L587.65 427.80 L587.65 426.15 L587.65 423.58 L589.74 423.58 L589.74 421.06 L591.88 421.06 L593.38 421.06 L593.38 419.46 L594.39 419.46 L594.39 418.58 L596.53 418.58 L596.53 416.40 L597.83 416.40 L597.83 414.53 L597.83 412.91 L599.13 412.91 L600.42 412.91 L600.42 411.25 L601.84 411.25 L601.84 409.87 L601.84 407.38 L603.46 407.38 L603.46 405.18 L605.16 405.18 L605.16 404.21 L606.70 404.21 L608.56 404.21 L608.56 403.41 L609.80 403.10 L611.40 400.30 L609.80 402.60 L608.00 419.50 L607.50 436.40 L606.90 450.00 L604.80 496.30 L604.40 553.60" fill="none" stroke="#2a2a2a" stroke-width="1.2" stroke-linejoin="round" stroke-linecap="round"/><path d="M604.50 550.20 L607.00 549.80 L609.00 548.60 L611.00 549.60 L613.90 549.70" fill="none" stroke="#2a2a2a" stroke-width="1.0" stroke-linejoin="round" stroke-linecap="round"/><path d="M397.75 552.40 L397.75 552.79 L399.96 552.79 L399.96 553.30 L401.20 553.30 L401.20 553.34 L402.45 553.34 L403.94 553.34 L403.94 553.46 L405.19 553.46 L405.19 553.11 L407.16 553.11 L407.16 552.70 L408.89 552.70 L408.89 552.60 L410.61 552.60 L410.61 552.29 L410.61 551.74 L412.33 551.74 L412.33 551.09 L413.55 551.09 L413.55 550.89 L415.26 550.89 L415.26 550.62 L417.46 550.62 L419.67 550.62 L419.67 550.35 L419.67 550.11 L420.65 550.11 L420.65 549.67 L422.13 549.67 L422.13 549.61 L423.35 549.61 L423.35 548.86 L424.83 548.86 L426.30 548.86 L426.30 549.08 L427.78 549.08 L427.78 548.38 L429.48 548.38 L429.48 547.90 L429.48 547.43 L431.14 547.43 L431.14 547.02 L432.34 547.02 L432.34 547.35 L434.57 547.35 L436.07 547.35 L436.07 546.56 L437.55 546.56 L437.55 547.02 L439.75 547.02 L439.75 546.19 L440.95 546.19 L440.95 546.24 L442.62 546.24 L442.62 545.34 L442.62 545.40 L443.83 545.40 L445.79 545.40 L445.79 545.00 L447.62 545.00 L447.62 544.07 L449.18 544.07 L449.18 543.47 L449.18 541.90 L451.23 541.90 L452.64 541.90 L452.64 541.66 L452.64 541.30 L454.82 541.30 L454.82 540.69 L456.79 540.69 L456.79 540.59 L458.03 540.59 L459.51 540.59 L459.51 539.96 L459.51 539.78 L461.23 539.78 L461.23 540.05 L462.95 540.05 L464.92 540.05 L464.92 539.23 L464.92 539.21 L466.64 539.21 L466.64 538.51 L467.87 538.51 L467.87 538.37 L469.83 538.37 L469.83 538.14 L471.04 538.14 L472.74 538.14 L472.74 537.42 L474.44 537.42 L474.44 537.55 L474.44 536.65 L475.40 536.65 L475.40 536.54 L476.85 536.54 L476.85 535.89 L478.52 535.89 L478.52 535.60 L479.48 535.60 L479.48 535.02 L480.67 535.02 L482.08 535.02 L482.08 535.27 L482.08 533.95 L484.16 533.95 L485.73 533.95 L485.73 533.39 L485.73 532.50 L487.04 532.50 L488.36 532.50 L488.36 531.60 L488.36 531.10 L489.47 531.10 L491.10 531.10 L491.10 530.68 L492.07 530.68 L492.07 530.01 L493.28 530.01 L493.28 530.11 L493.28 529.30 L495.37 529.30 L497.22 529.30 L497.22 528.48 L497.22 527.54 L498.60 527.54 L498.60 526.89 L500.22 526.89 L502.05 526.89 L502.05 526.51 L503.18 526.51 L503.18 526.28 L504.53 526.28 L504.53 525.63 L506.10 525.63 L506.10 524.43 L508.29 524.43 L508.29 523.18 L508.29 521.96 L509.80 521.96 L511.91 521.96 L511.91 521.35 L513.80 521.35 L513.80 519.64 L515.05 519.64 L515.05 518.81 L515.05 517.37 L516.91 517.37 L517.94 517.37 L517.94 517.37 L517.94 516.48 L518.97 516.48 L518.97 514.87 L521.03 514.87 L521.03 514.29 L522.05 514.29 L524.32 514.29 L524.32 512.20 L526.19 512.20 L526.19 511.68 L528.07 511.68 L528.07 510.16 L529.55 510.16 L529.55 509.25 L530.81 509.25 L530.81 508.56 L532.28 508.56 L532.28 507.23 L532.28 506.38 L534.17 506.38 L535.82 506.38 L535.82 504.82 L535.82 504.12 L536.83 504.12 L538.62 504.12 L538.62 502.75 L538.62 501.90 L539.58 501.90 L539.58 501.29 L540.88 501.29 L542.12 501.29 L542.12 499.70 L543.96 499.70 L543.96 497.91 L545.72 497.91 L545.72 495.42 L545.72 493.80 L546.97 493.80 L548.71 493.80 L548.71 492.09 L550.51 492.09 L550.51 489.81 L552.07 489.81 L552.07 488.16 L552.07 486.94 L553.52 486.94 L553.52 484.56 L555.73 484.56 L555.73 483.14 L557.78 483.14 L557.78 482.18 L558.89 482.18 L558.89 481.00 L559.98 481.00 L559.98 479.97 L561.21 479.97 L562.55 479.97 L562.55 477.92 L564.60 477.92 L564.60 475.62 L566.15 475.62 L566.15 474.06 L566.78 474.06 L566.78 473.30 L567.93 473.30 L567.93 472.00 L568.60 472.00 L568.60 471.19 L569.64 471.19 L569.64 470.15 L571.74 470.15 L571.74 467.52 L571.74 466.46 L572.98 466.46 L574.41 466.46 L574.41 465.03 L574.41 463.27 L576.55 463.27 L578.51 463.27 L578.51 460.65 L578.51 459.48 L579.75 459.48 L579.75 458.00 L581.91 458.00 L582.80 458.00 L582.80 456.74 L584.91 456.74 L584.91 454.48 L584.91 451.76 L587.18 451.76 L588.47 451.76 L588.47 450.29 L590.21 450.29 L590.21 447.64 L591.88 447.64 L591.88 445.60 L592.79 445.60 L592.79 444.40 L594.82 444.40 L594.82 441.68 L596.15 441.68 L596.15 440.00 L597.75 440.00 L597.75 438.65 L597.75 437.53 L599.04 437.53 L600.48 437.53 L600.48 436.37 L600.48 434.80 L601.51 434.80 L601.51 433.06 L603.11 433.06 L605.13 433.06 L605.13 430.50 L605.13 428.48 L606.57 428.48 L608.12 428.48 L608.12 427.24 L609.75 427.24 L609.75 425.87 L609.75 423.13 L612.09 423.13 L613.27 423.13 L613.27 422.38 L613.27 421.23 L614.08 421.23 L614.08 418.97 L616.13 418.97 L616.75 418.97 L616.75 417.79 L616.75 415.52 L618.65 415.52 L618.65 413.45 L620.70 413.45 L622.46 413.45 L622.46 410.97 L624.63 410.97 L624.63 408.18 L624.63 406.18 L626.71 406.18 L626.71 405.24 L627.60 405.24 L627.60 404.62 L628.51 404.62 L628.51 403.76 L629.61 403.76 L629.61 402.39 L631.35 402.39 L631.35 401.17 L632.35 401.17 L632.35 399.49 L634.51 399.49 L635.62 399.49 L635.62 398.98 L637.17 398.98 L637.17 397.21 L637.17 395.29 L639.03 395.29 L640.30 395.29 L640.30 393.64 L642.49 393.64 L642.49 392.61 L644.17 392.61 L644.17 391.33 L644.17 389.94 L645.55 389.94 L645.55 388.09 L646.74 388.09 L647.60 387.50 L653.20 385.30 L648.70 386.60 L648.50 547.90 L650.00 549.30 L651.50 549.50" fill="none" stroke="#d83a3a" stroke-width="1.2" stroke-linejoin="round" stroke-linecap="round"/><path d="M397.75 553.80 L397.75 553.67 L399.50 553.67 L401.00 553.67 L401.00 553.48 L402.50 553.48 L402.50 553.74 L404.75 553.74 L404.75 553.72 L404.75 553.63 L406.50 553.63 L408.00 553.63 L408.00 553.53 L408.00 553.21 L410.00 553.21 L411.24 553.21 L411.24 553.70 L411.24 553.33 L412.74 553.33 L413.99 553.33 L413.99 553.15 L415.74 553.15 L415.74 553.35 L415.74 553.01 L416.99 553.01 L418.49 553.01 L418.49 553.26 L418.49 553.40 L420.24 553.40 L421.24 553.40 L421.24 553.06 L422.24 553.06 L422.24 553.31 L422.24 553.13 L423.49 553.13 L423.49 553.27 L424.99 553.27 L424.99 552.57 L426.49 552.57 L427.98 552.57 L427.98 552.89 L428.98 552.89 L428.98 552.44 L428.98 553.04 L429.98 553.04 L429.98 552.85 L431.23 552.85 L432.23 552.85 L432.23 552.81 L434.46 552.81 L434.46 552.04 L434.46 551.69 L435.82 551.69 L437.50 551.69 L437.50 550.62 L437.50 550.00 L439.42 550.00 L439.42 550.06 L441.58 550.06 L443.25 550.06 L443.25 549.58 L444.69 549.58 L444.69 548.46 L444.69 547.97 L446.63 547.97 L446.63 548.56 L448.12 548.56 L450.03 548.56 L450.03 547.96 L451.34 547.96 L451.34 546.86 L451.34 546.05 L453.24 546.05 L455.50 546.05 L455.50 544.35 L455.50 543.23 L457.13 543.23 L457.13 541.89 L458.55 541.89 L459.76 541.89 L459.76 541.43 L461.58 541.43 L461.58 539.78 L461.58 538.38 L463.34 538.38 L463.34 536.67 L465.42 536.67 L465.42 534.76 L467.68 534.76 L467.68 534.39 L469.68 534.39 L469.68 532.88 L471.19 532.88 L471.19 532.41 L472.37 532.41 L474.46 532.41 L474.46 529.94 L476.69 529.94 L476.69 527.81 L476.69 526.16 L478.38 526.16 L478.38 524.85 L479.99 524.85 L482.17 524.85 L482.17 523.56 L482.17 522.58 L483.33 522.58 L483.33 520.72 L485.05 520.72 L485.05 519.38 L486.77 519.38 L486.77 518.29 L488.27 518.29 L488.27 515.84 L490.49 515.84 L490.49 514.21 L492.67 514.21 L492.67 511.60 L494.80 511.60 L496.57 511.60 L496.57 510.27 L496.57 508.13 L498.32 508.13 L498.32 507.52 L499.55 507.52 L500.95 507.52 L500.95 505.96 L500.95 503.89 L502.54 503.89 L504.49 503.89 L504.49 502.43 L504.49 499.90 L506.45 499.90 L508.06 499.90 L508.06 498.36 L510.19 498.36 L510.19 496.70 L510.19 494.35 L512.29 494.35 L512.29 492.69 L513.68 492.69 L513.68 491.74 L514.71 491.74 L514.71 490.88 L515.74 490.88 L515.74 488.89 L517.44 488.89 L517.44 486.87 L519.47 486.87 L519.47 485.25 L520.81 485.25 L523.14 485.25 L523.14 482.31 L524.28 482.31 L524.28 481.62 L525.25 481.62 L525.25 480.45 L525.25 477.63 L527.23 477.63 L527.23 474.92 L528.88 474.92 L530.29 474.92 L530.29 472.87 L532.05 472.87 L532.05 470.71 L533.85 470.71 L533.85 468.02 L533.85 466.96 L534.78 466.96 L536.35 466.96 L536.35 464.87 L536.35 462.86 L538.12 462.86 L538.12 462.19 L539.10 462.19 L540.88 462.19 L540.88 459.68 L542.00 459.68 L542.00 458.56 L542.00 457.53 L542.96 457.53 L542.96 455.25 L544.86 455.25 L544.86 452.81 L546.75 452.81 L548.01 452.81 L548.01 450.72 L549.29 450.72 L549.29 449.53 L549.29 446.93 L551.53 446.93 L551.53 444.17 L553.62 444.17 L555.87 444.17 L555.87 441.52 L555.87 439.72 L557.79 439.72 L558.91 439.72 L558.91 438.14 L558.91 436.64 L560.02 436.64 L560.98 436.64 L560.98 435.89 L560.98 433.03 L562.89 433.03 L564.97 433.03 L564.97 431.10 L564.97 428.66 L566.58 428.66 L566.58 427.98 L567.54 427.98 L568.19 427.98 L568.19 427.26 L568.83 427.26 L568.83 425.95 L568.83 424.78 L570.12 424.78 L570.12 422.98 L571.72 422.98 L573.29 422.98 L573.29 420.66 L574.39 420.66 L574.39 419.43 L574.39 416.92 L576.28 416.92 L577.91 416.92 L577.91 415.26 L579.09 415.26 L579.09 414.02 L580.86 414.02 L580.86 412.48 L580.86 410.13 L583.04 410.13 L583.04 408.69 L584.66 408.69 L584.66 407.24 L585.87 407.24 L585.87 405.62 L587.31 405.62 L588.92 405.62 L588.92 403.51 L588.92 401.36 L590.42 401.36 L590.42 400.01 L591.17 400.01 L591.17 398.64 L592.54 398.64 L592.54 396.85 L593.77 396.85 L593.77 394.25 L596.03 394.25 L596.03 392.96 L597.42 392.96 L599.40 392.96 L599.40 391.19 L601.70 391.19 L601.70 388.68 L603.27 388.68 L603.27 386.65 L603.27 384.99 L605.35 384.99 L606.39 384.99 L606.39 383.42 L607.92 383.42 L607.92 382.26 L609.76 382.26 L609.76 380.11 L609.76 377.40 L611.68 377.40 L612.76 377.40 L612.76 376.00 L614.44 376.00 L614.44 374.27 L616.47 374.27 L616.47 371.87 L617.11 371.87 L617.11 371.24 L617.11 369.68 L617.93 369.68 L617.93 368.55 L619.12 368.55 L619.12 367.32 L620.49 367.32 L620.49 365.11 L622.54 365.11 L622.54 363.62 L623.86 363.62 L623.86 361.53 L625.40 361.53 L625.40 360.25 L626.37 360.25 L626.37 359.03 L626.89 359.03 L626.89 358.18 L627.64 358.18 L628.13 358.18 L628.13 357.15 L628.13 354.51 L629.50 354.51 L631.71 354.51 L631.71 351.68 L632.90 351.68 L632.90 351.27 L632.90 350.11 L633.97 350.11 L635.20 350.11 L635.20 349.56 L635.20 349.70 L635.70 347.70 L642.50 347.20 L638.00 358.70 L637.40 374.50 L636.60 405.00 L636.20 430.00 L635.00 450.00 L633.60 500.00 L634.60 530.00 L635.50 553.80" fill="none" stroke="#33dd33" stroke-width="1.2" stroke-linejoin="round" stroke-linecap="round"/><path d="M397.75 553.80 L399.25 553.80 L399.25 554.12 L400.75 554.12 L400.75 554.01 L402.00 554.01 L402.00 553.96 L404.25 553.96 L404.25 553.89 L404.25 553.28 L405.75 553.28 L407.25 553.28 L407.25 553.43 L408.50 553.43 L408.50 553.83 L408.50 553.61 L410.25 553.61 L412.00 553.61 L412.00 553.41 L412.00 553.83 L414.00 553.83 L415.25 553.83 L415.25 553.86 L415.25 553.65 L416.50 553.65 L416.50 553.26 L418.25 553.26 L418.25 553.44 L419.50 553.44 L421.49 553.44 L421.49 553.70 L423.49 553.70 L423.49 553.26 L425.47 553.26 L425.47 553.44 L426.95 553.44 L426.95 553.15 L428.41 553.15 L428.41 552.72 L428.41 551.99 L430.78 551.99 L430.78 550.61 L432.59 550.61 L432.59 550.02 L434.41 550.02 L434.41 549.28 L435.82 549.28 L435.82 548.66 L437.22 548.66 L438.92 548.66 L438.92 548.08 L438.92 546.77 L440.00 546.77 L441.31 546.77 L441.31 545.72 L442.89 545.72 L442.89 542.88 L442.89 541.73 L443.88 541.73 L445.23 541.73 L445.23 540.93 L445.23 539.68 L446.61 539.68 L446.61 539.00 L447.60 539.00 L447.60 537.52 L449.40 537.52 L450.39 537.52 L450.39 536.67 L451.99 536.67 L451.99 536.04 L453.20 536.04 L453.20 535.10 L454.19 535.10 L454.19 534.23 L454.19 532.55 L455.73 532.55 L457.74 532.55 L457.74 530.92 L459.49 530.92 L459.49 529.32 L459.49 527.78 L460.68 527.78 L462.02 527.78 L462.02 526.53 L464.15 526.53 L464.15 523.82 L465.11 523.82 L465.11 522.49 L467.26 522.49 L467.26 519.96 L467.26 517.75 L469.14 517.75 L469.14 516.21 L469.85 516.21 L470.99 516.21 L470.99 514.58 L470.99 513.27 L472.14 513.27 L472.14 511.41 L473.28 511.41 L473.28 508.80 L474.86 508.80 L474.86 507.03 L476.33 507.03 L478.17 507.03 L478.17 504.67 L479.62 504.67 L479.62 503.02 L480.60 503.02 L480.60 501.99 L482.55 501.99 L482.55 499.68 L484.63 499.68 L484.63 497.11 L485.91 497.11 L485.91 495.26 L485.91 493.27 L488.14 493.27 L488.95 493.27 L488.95 491.75 L490.39 491.75 L490.39 490.35 L490.39 488.35 L491.71 488.35 L491.71 485.82 L493.35 485.82 L493.35 484.18 L494.42 484.18 L494.42 482.96 L495.23 482.96 L495.23 481.49 L496.05 481.49 L497.29 481.49 L497.29 479.57 L498.83 479.57 L498.83 477.46 L498.83 475.66 L499.96 475.66 L499.96 473.28 L501.50 473.28 L501.50 472.11 L502.72 472.11 L503.25 472.11 L503.25 471.03 L503.25 470.11 L503.90 470.11 L503.90 467.78 L505.21 467.78 L505.21 465.93 L506.44 465.93 L508.00 465.93 L508.00 463.81 L508.00 462.34 L508.86 462.34 L508.86 460.96 L510.02 460.96 L510.02 458.87 L511.34 458.87 L512.37 458.87 L512.37 457.68 L514.19 457.68 L514.19 455.15 L515.11 455.15 L515.11 453.94 L515.11 451.31 L516.71 451.31 L516.71 449.45 L518.02 449.45 L519.27 449.45 L519.27 447.29 L520.50 447.29 L520.50 445.07 L522.58 445.07 L522.58 442.65 L522.58 440.65 L524.62 440.65 L526.33 440.65 L526.33 438.77 L526.33 435.93 L527.87 435.93 L529.15 435.93 L529.15 434.58 L529.15 432.18 L530.81 432.18 L530.81 430.77 L532.19 430.77 L532.19 429.53 L533.11 429.53 L533.11 427.89 L534.04 427.89 L534.04 424.88 L536.33 424.88 L536.33 422.23 L538.48 422.23 L538.48 421.06 L539.71 421.06 L539.71 418.94 L540.92 418.94 L542.71 418.94 L542.71 416.67 L542.71 415.22 L543.73 415.22 L543.73 413.27 L545.44 413.27 L545.44 411.83 L546.15 411.83 L546.15 409.66 L548.02 409.66 L548.02 407.68 L549.37 407.68 L550.64 407.68 L550.64 405.54 L550.64 404.80 L551.47 404.80 L552.66 404.80 L552.66 403.49 L552.66 402.25 L554.02 402.25 L556.17 402.25 L556.17 399.45 L556.17 398.98 L557.12 398.98 L558.54 398.98 L558.54 397.14 L558.54 394.41 L560.41 394.41 L561.80 394.41 L561.80 392.97 L561.80 391.20 L562.88 391.20 L564.41 391.20 L564.41 389.15 L564.41 387.13 L566.07 387.13 L566.07 384.73 L568.00 384.73 L568.00 383.50 L569.04 383.50 L570.25 383.50 L570.25 381.23 L570.25 379.35 L572.26 379.35 L573.53 379.35 L573.53 377.55 L575.31 377.55 L575.31 375.82 L575.31 373.99 L576.77 373.99 L576.77 372.17 L577.91 372.17 L579.10 371.00 L581.00 370.00 L588.40 370.00 L587.60 380.00 L587.00 420.00 L586.80 553.80" fill="none" stroke="#2222dd" stroke-width="1.2" stroke-linejoin="round" stroke-linecap="round"/></g>
</svg></body></html>
